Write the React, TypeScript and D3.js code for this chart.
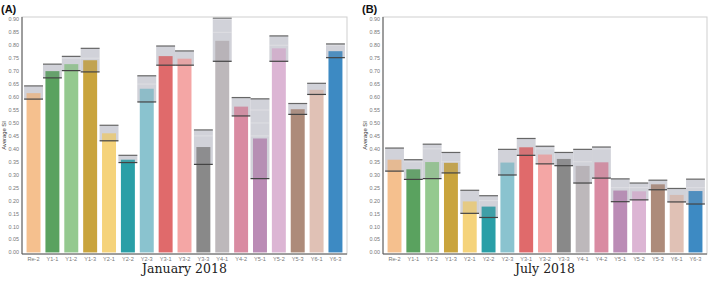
import React from "react";
import * as d3 from "d3";

const categories = ["Re-2","Y1-1","Y1-2","Y1-3","Y2-1","Y2-2","Y2-3","Y3-1","Y3-2","Y3-3","Y4-1","Y4-2","Y5-1","Y5-2","Y5-3","Y6-1","Y6-3"];
const colors = ["#f5c08e","#5aa25f","#94c98f","#c9a43d","#f5d37b","#2a9fa7","#8ac3cf","#e06a6b","#f4a6a5","#898989","#bdb8bb","#d98ba2","#bb8cb6","#dcb5d4","#ad8b7a","#e0c1b5","#3d8ac3"];

const janMean = [0.615,0.70,0.727,0.742,0.46,0.358,0.632,0.758,0.748,0.407,0.817,0.563,0.44,0.788,0.553,0.628,0.777];
const janUpper = [0.643,0.727,0.757,0.788,0.491,0.375,0.682,0.797,0.778,0.473,0.905,0.598,0.593,0.836,0.575,0.653,0.805];
const janLower = [0.592,0.674,0.702,0.697,0.431,0.347,0.581,0.723,0.723,0.34,0.738,0.527,0.285,0.738,0.533,0.61,0.752];

const julMean = [0.358,0.321,0.349,0.346,0.197,0.177,0.347,0.406,0.378,0.361,0.334,0.348,0.239,0.236,0.263,0.222,0.237];
const julUpper = [0.403,0.358,0.418,0.386,0.24,0.219,0.398,0.44,0.41,0.386,0.398,0.407,0.284,0.268,0.279,0.247,0.283];
const julLower = [0.314,0.282,0.285,0.307,0.151,0.135,0.299,0.375,0.342,0.335,0.268,0.287,0.196,0.203,0.242,0.195,0.187];

const yTicks = d3.range(0, 0.901, 0.05);

type PanelProps = { x0: number; x1: number; label: string; title: string; mean: number[]; upper: number[]; lower: number[] };

function Panel({ x0, x1, label, title, mean, upper, lower }: PanelProps) {
  const top = 17;
  const bottom = 254;
  const y = d3.scaleLinear().domain([-0.006, 0.909]).range([bottom, top]);
  const xBand = d3.scaleBand<string>().domain(categories).range([x0 + 0.6, x1 - 0.6]).paddingInner(0).paddingOuter(0.08);
  const step = xBand.bandwidth();
  const barW = step * 0.74;
  return (
    <g>
      <text x={x0 - 21} y={12.5} fontFamily="Liberation Sans, Arial, sans-serif" fontWeight="bold" fontSize={11} fill="#111">{label}</text>
      {categories.map((c, i) => {
        const bx = xBand(c)!;
        const cx = bx + step / 2;
        const yt = y(upper[i]);
        const yb = y(lower[i]);
        const grid = yTicks.filter(t => t > Math.max(mean[i], lower[i]) + 0.004 && t < upper[i] - 0.004);
        return (
          <g key={c}>
            <rect x={bx} y={yt} width={step} height={yb - yt} fill="#dcdde3" />
            {grid.map(t => (
              <line key={t} x1={bx} x2={bx + step} y1={y(t)} y2={y(t)} stroke="#ffffff" strokeOpacity={0.6} strokeWidth={0.8} />
            ))}
            <rect x={cx - barW / 2} y={y(mean[i])} width={barW} height={y(0) - y(mean[i])} fill={colors[i]} />
            <rect x={bx} y={yt} width={step} height={yb - yt} fill="#9fa1ad" fillOpacity={0.18} />
            <line x1={bx} x2={bx + step} y1={yt} y2={yt} stroke="#666" strokeWidth={1.2} />
            <line x1={bx} x2={bx + step} y1={yb} y2={yb} stroke="#444" strokeWidth={1.2} />
            <text x={cx} y={261} textAnchor="middle" fontFamily="Liberation Sans, Arial, sans-serif" fontSize={5.6} fill="#777">{c}</text>
          </g>
        );
      })}
      <rect x={x0} y={top} width={x1 - x0} height={bottom - top} fill="none" stroke="#cfcfcf" strokeWidth={1} />
      <line x1={x0} x2={x0} y1={top} y2={bottom} stroke="#555" strokeWidth={1} />
      <line x1={x0} x2={x1} y1={bottom} y2={bottom} stroke="#555" strokeWidth={1} />
      {yTicks.map(t => (
        <text key={t} x={x0 - 3} y={y(t) + 2} textAnchor="end" fontFamily="Liberation Sans, Arial, sans-serif" fontSize={5.4} fill="#777">{t.toFixed(2)}</text>
      ))}
      <text transform={`translate(${x0 - 16},${(top + bottom) / 2}) rotate(-90)`} textAnchor="middle" fontFamily="Liberation Sans, Arial, sans-serif" fontSize={5.8} fill="#333">Average SI</text>
      <text x={(x0 + x1) / 2} y={273} textAnchor="middle" fontFamily="DejaVu Serif, Liberation Serif, serif" fontSize={12.5} fill="#222">{title}</text>
    </g>
  );
}

export default function App() {
  return (
    <svg width={709} height={283} style={{ position: "absolute", left: 0, top: 0, background: "#fff" }}>
      <rect width={709} height={283} fill="#fff" />
      <Panel x0={22} x1={347} label="(A)" title="January 2018" mean={janMean} upper={janUpper} lower={janLower} />
      <Panel x0={383} x1={707} label="(B)" title="July 2018" mean={julMean} upper={julUpper} lower={julLower} />
    </svg>
  );
}
